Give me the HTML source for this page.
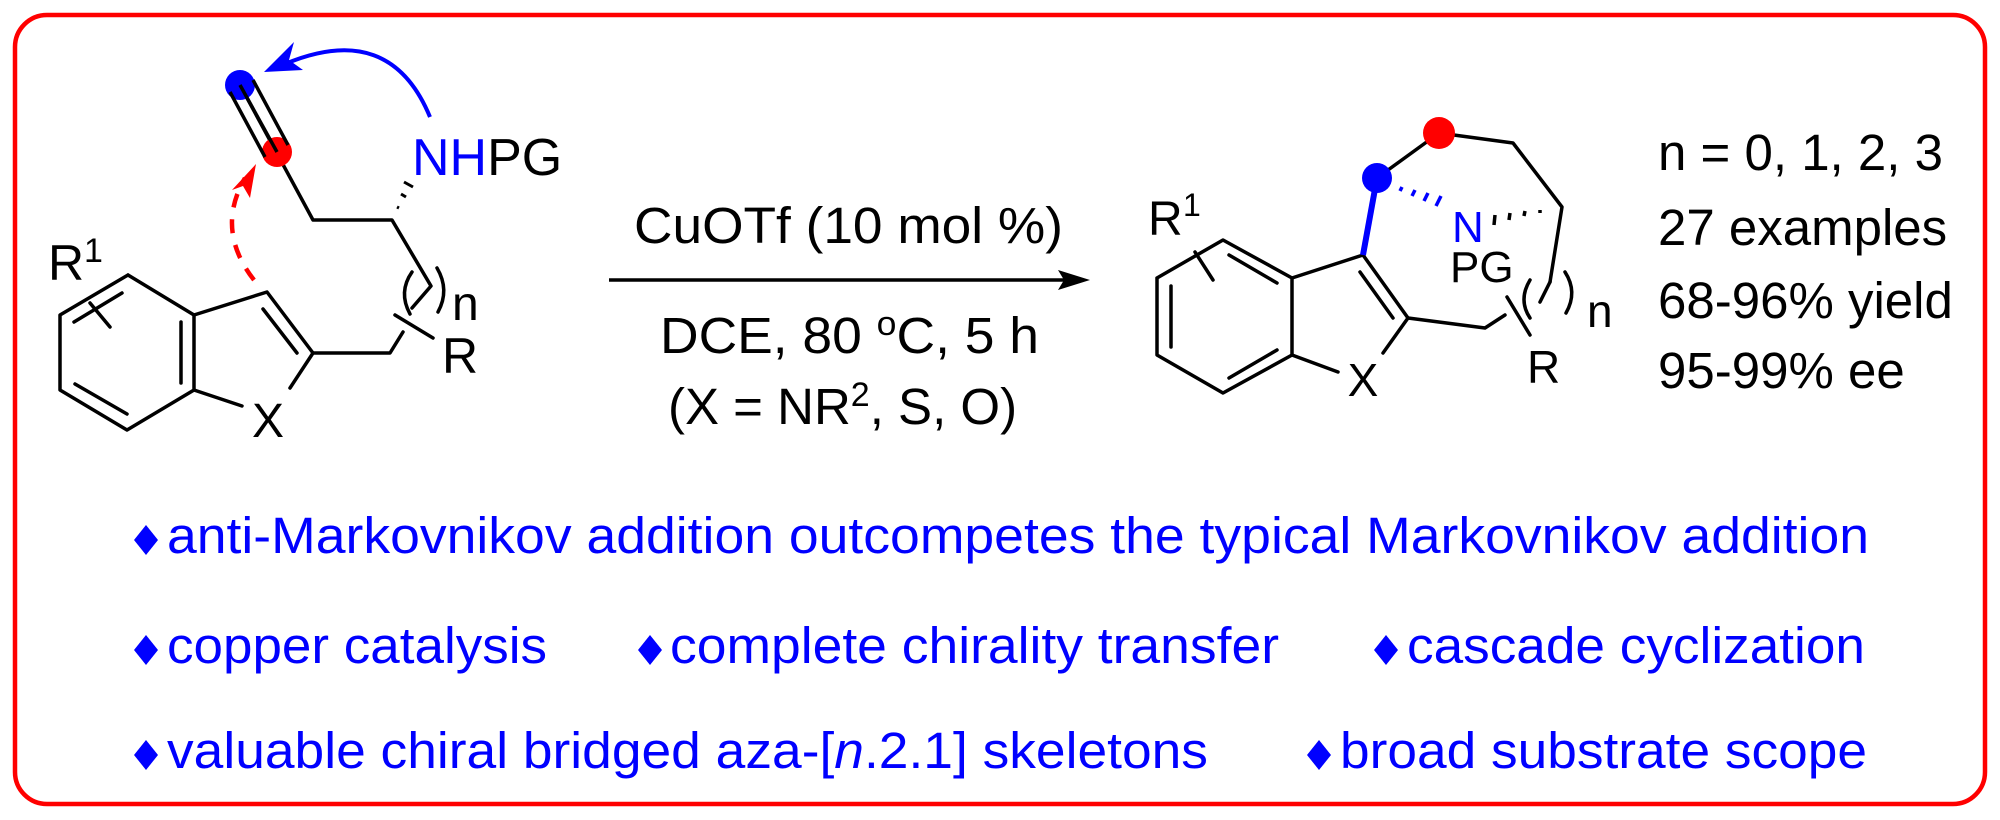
<!DOCTYPE html>
<html><head><meta charset="utf-8"><style>
html,body{margin:0;padding:0;background:#fff;width:2000px;height:820px;overflow:hidden}
svg{display:block}
text{font-family:"Liberation Sans",Arial,sans-serif}
</style></head><body>
<svg width="2000" height="820" viewBox="0 0 2000 820" xmlns="http://www.w3.org/2000/svg">
<rect x="15" y="15" width="1970" height="789" rx="32" fill="none" stroke="#ff0000" stroke-width="4.5"/>

<!-- LEFT MOLECULE -->
<g stroke="#000" stroke-width="3.5" fill="none" stroke-linecap="round" stroke-linejoin="round">
<polyline points="128,275 194,315 194,390 127,430 60,390 60,315 128,275"/>
<line x1="74" y1="322" x2="122" y2="293"/>
<line x1="181" y1="322" x2="181" y2="383"/>
<line x1="75" y1="384" x2="127" y2="414"/>
<line x1="90" y1="303" x2="110" y2="327"/>
<polyline points="194,315 267,292 313,353 290,388"/>
<line x1="194" y1="390" x2="242" y2="406"/>
<line x1="263" y1="309" x2="297" y2="353"/>
<polyline points="313,353 390,353 403,332"/>
<line x1="395" y1="315" x2="433" y2="338"/>
<polyline points="412,308 431,286 392,220 313,220 240,85"/>
<path d="M412,272 Q398,292 410,314" />
<path d="M437,268 Q450,290 438,312" />
</g>
<g stroke="#000" stroke-width="3">
<line x1="397" y1="207" x2="399" y2="208"/>
<line x1="401" y1="194" x2="406" y2="197"/>
<line x1="404" y1="182" x2="413" y2="187"/>
</g>
<circle cx="240" cy="85" r="15" fill="#0000ff"/>
<circle cx="277" cy="152" r="15" fill="#ff0000"/>
<g stroke="#000" stroke-width="3.5"><line x1="240" y1="85" x2="277" y2="152"/><line x1="230" y1="92" x2="265" y2="157"/><line x1="253" y1="80" x2="288" y2="145"/></g>
<path d="M430,117 Q390,20 285,64" fill="none" stroke="#0000ff" stroke-width="4"/>
<path d="M264,72 L294,42 L289,60 L303,70 Z" fill="#0000ff"/>
<path d="M254,280 Q215,230 245,178" fill="none" stroke="#ff0000" stroke-width="4.5" stroke-dasharray="14,12"/>
<path d="M256,164 L250,198 L243,186 L232,190 Z" fill="#ff0000"/>
<text x="412" y="175" font-size="52" fill="#0000ff">NH<tspan fill="#000">PG</tspan></text>
<text x="48" y="280" font-size="50">R</text>
<text x="84" y="262" font-size="34">1</text>
<text x="268" y="437" font-size="48" text-anchor="middle">X</text>
<text x="452" y="320" font-size="48">n</text>
<text x="442" y="373" font-size="50">R</text>

<!-- CONDITIONS -->
<line x1="609" y1="280" x2="1072" y2="280" stroke="#000" stroke-width="3.5"/>
<path d="M1090,280 L1058,270 L1064,280 L1058,290 Z" fill="#000"/>
<text x="634" y="243" font-size="51" textLength="429" lengthAdjust="spacingAndGlyphs">CuOTf (10 mol %)</text>
<text x="660" y="353" font-size="51" textLength="379" lengthAdjust="spacingAndGlyphs">DCE, 80 <tspan dy="-18" font-size="34">o</tspan><tspan dy="18">C, 5 h</tspan></text>
<text x="668" y="424" font-size="51">(X = NR<tspan dy="-18" font-size="34">2</tspan><tspan dy="18">, S, O)</tspan></text>

<!-- RIGHT MOLECULE -->
<g stroke="#000" stroke-width="3.5" fill="none" stroke-linecap="round" stroke-linejoin="round">
<polyline points="1157,278 1223,240 1292,278 1292,355 1223,393 1157,355 1157,278"/>
<line x1="1229" y1="255" x2="1277" y2="283"/>
<line x1="1171" y1="286" x2="1171" y2="347"/>
<line x1="1229" y1="378" x2="1277" y2="350"/>
<line x1="1195" y1="252" x2="1213" y2="280"/>
<polyline points="1292,278 1363,255 1408,318 1383,353"/>
<line x1="1292" y1="355" x2="1338" y2="372"/>
<line x1="1360" y1="272" x2="1393" y2="318"/>
<polyline points="1408,318 1485,328 1505,315"/>
<polyline points="1439,133 1513,143 1562,207 1550,282"/>
<line x1="1377" y1="178" x2="1439" y2="133"/>
<line x1="1507" y1="297" x2="1530" y2="335"/>
<path d="M1530,280 Q1518,300 1530,318" />
<path d="M1565,272 Q1578,292 1566,313" />
<line x1="1550" y1="282" x2="1540" y2="302"/>
</g>
<line x1="1363" y1="255" x2="1377" y2="178" stroke="#0000ff" stroke-width="6"/>
<g stroke="#0000ff" stroke-width="3.5">
<line x1="1400" y1="191" x2="1402" y2="187"/>
<line x1="1412" y1="196" x2="1415" y2="190"/>
<line x1="1424" y1="201" x2="1428" y2="193"/>
<line x1="1436" y1="206" x2="1441" y2="196"/>
</g>
<g stroke="#000" stroke-width="3.5">
<line x1="1494" y1="225" x2="1495" y2="215"/>
<line x1="1509" y1="220" x2="1510" y2="213"/>
<line x1="1524" y1="216" x2="1525" y2="211"/>
<line x1="1540" y1="213" x2="1540" y2="210"/>
</g>
<circle cx="1377" cy="178" r="15" fill="#0000ff"/>
<circle cx="1439" cy="133" r="16" fill="#ff0000"/>
<text x="1452" y="242" font-size="44" fill="#0000ff">N</text>
<text x="1450" y="282" font-size="44">PG</text>
<text x="1363" y="396" font-size="46" text-anchor="middle">X</text>
<text x="1148" y="235" font-size="48">R</text>
<text x="1183" y="216" font-size="32">1</text>
<text x="1587" y="327" font-size="46">n</text>
<text x="1527" y="383" font-size="46">R</text>

<!-- STATS -->
<g font-size="51">
<text x="1658" y="170">n = 0, 1, 2, 3</text>
<text x="1658" y="245">27 examples</text>
<text x="1658" y="318">68-96% yield</text>
<text x="1658" y="388">95-99% ee</text>
</g>

<!-- BULLETS -->
<g fill="#0000ff">
<path d="M146,525 L158,540 L146,555 L134,540 Z"/>
<path d="M146,635 L158,650 L146,665 L134,650 Z"/>
<path d="M650,635 L662,650 L650,665 L638,650 Z"/>
<path d="M1386,635 L1398,650 L1386,665 L1374,650 Z"/>
<path d="M146,740 L158,755 L146,770 L134,755 Z"/>
<path d="M1319,740 L1331,755 L1319,770 L1307,755 Z"/>
</g>
<g fill="#0000ff" font-size="51">
<text x="167" y="553" textLength="1702" lengthAdjust="spacingAndGlyphs">anti-Markovnikov addition outcompetes the typical Markovnikov addition</text>
<text x="167" y="663" textLength="380" lengthAdjust="spacingAndGlyphs">copper catalysis</text>
<text x="670" y="663" textLength="609" lengthAdjust="spacingAndGlyphs">complete chirality transfer</text>
<text x="1407" y="663" textLength="458" lengthAdjust="spacingAndGlyphs">cascade cyclization</text>
<text x="167" y="768" textLength="1041" lengthAdjust="spacingAndGlyphs">valuable chiral bridged aza-[<tspan font-style="italic">n</tspan>.2.1] skeletons</text>
<text x="1340" y="768" textLength="527" lengthAdjust="spacingAndGlyphs">broad substrate scope</text>
</g>
</svg>
</body></html>
